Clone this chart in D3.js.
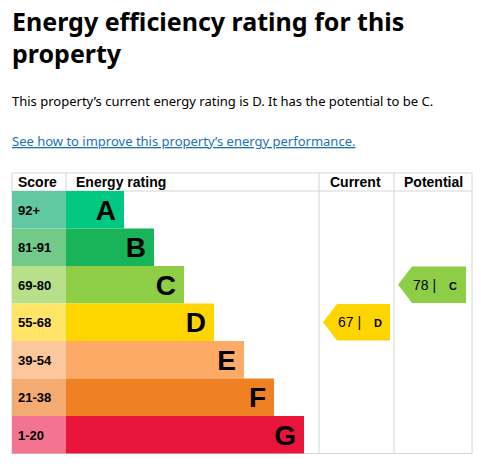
<!DOCTYPE html>
<html><head><meta charset="utf-8">
<script src="https://cdn.jsdelivr.net/npm/d3@7"></script>
<style>
body{margin:0;background:#fff;font-family:"Noto Sans",Arial,sans-serif;color:#0b0c0c}
</style></head>
<body><svg id="chart" width="481" height="469"></svg>
<script>
var bands = ['A', 'B', 'C', 'D', 'E', 'F', 'G'];
var scores = ['92+', '81-91', '69-80', '55-68', '39-54', '21-38', '1-20'];
var barColors = ['#00c781', '#19b459', '#8dce46', '#ffd500', '#fcaa65', '#ef8023', '#e9153b'];
var scoreColors = ['#62c7a3', '#73c987', '#b6e08a', '#ffe466', '#fdc79c', '#f4ab72', '#f27490'];
var current = {score: 67, band: 'D'};
var potential = {score: 78, band: 'C'};

var svg = d3.select('#chart');
var tLeft = 12, tRight = 472, tTop = 173, headH = 18, rowH = 37.5;
var colCur = 319, colPot = 394, barX = 66;

svg.append('text').attr('x', 12).attr('y', 31).attr('font-size', 25).attr('font-weight', 700).text('Energy efficiency rating for this');
svg.append('text').attr('x', 12).attr('y', 63).attr('font-size', 25).attr('font-weight', 700).text('property');
svg.append('text').attr('x', 12).attr('y', 106).attr('font-size', 13).text('This property\u2019s current energy rating is D. It has the potential to be C.');
svg.append('text').attr('x', 12).attr('y', 146).attr('font-size', 13).attr('fill', '#1d70b8')
	.attr('text-decoration', 'underline').text('See how to improve this property\u2019s energy performance.');

var y = d3.scaleBand().domain(bands).range([tTop + headH, tTop + headH + rowH * bands.length]);
var w = d3.scaleLinear().domain([0, bands.length - 1]).range([58, 238]);
var tBottom = tTop + headH + rowH * bands.length;

var g = svg.append('g').attr('font-family', 'Arial, "Liberation Sans", sans-serif');
g.append('rect').attr('x', tLeft).attr('y', tTop).attr('width', tRight - tLeft).attr('height', tBottom - tTop)
	.attr('fill', 'none').attr('stroke', '#d6d6d6');
[barX, colCur, colPot].forEach(function(x, i){
	g.append('line').attr('x1', x).attr('x2', x).attr('y1', tTop).attr('y2', i ? tBottom : tTop + headH).attr('stroke', '#d6d6d6');
});
g.append('line').attr('x1', tLeft).attr('x2', tRight).attr('y1', tTop + headH).attr('y2', tTop + headH).attr('stroke', '#d6d6d6');

var heads = [['Score', 18], ['Energy rating', 76], ['Current', 330], ['Potential', 404]];
heads.forEach(function(h){
	g.append('text').attr('x', h[1]).attr('y', tTop + 14).attr('font-size', 14).attr('font-weight', 700).text(h[0]);
});

bands.forEach(function(b, i){
	var yy = y(b);
	g.append('rect').attr('x', tLeft).attr('y', yy).attr('width', barX - tLeft).attr('height', rowH).attr('fill', scoreColors[i]);
	g.append('rect').attr('x', barX).attr('y', yy).attr('width', w(i)).attr('height', rowH).attr('fill', barColors[i]);
	g.append('text').attr('x', 18).attr('y', yy + rowH / 2 + 5).attr('font-size', 13).attr('font-weight', 700).text(scores[i]);
	g.append('text').attr('x', barX + w(i) - 8).attr('y', yy + rowH / 2 + 10).attr('text-anchor', 'end')
		.attr('font-size', 28).attr('font-weight', 700).text(b);
});

function arrow(r, x0, x1){
	var i = bands.indexOf(r.band), yy = y(r.band) + 0.5, h = rowH - 1, tip = 14;
	g.append('path').attr('d', 'M' + x0 + ' ' + (yy + h / 2) + 'L' + (x0 + tip) + ' ' + yy + 'H' + x1 + 'V' + (yy + h) + 'H' + (x0 + tip) + 'Z')
		.attr('fill', barColors[i]);
	g.append('text').attr('x', x0 + tip + 1).attr('y', yy + h / 2 + 5).attr('font-size', 14).text(r.score + ' |');
	g.append('text').attr('x', x0 + tip + 37).attr('y', yy + h / 2 + 5).attr('font-size', 11).attr('font-weight', 700).text(r.band);
}
arrow(current, 323, 390);
arrow(potential, 398, 466);
</script></body></html>
